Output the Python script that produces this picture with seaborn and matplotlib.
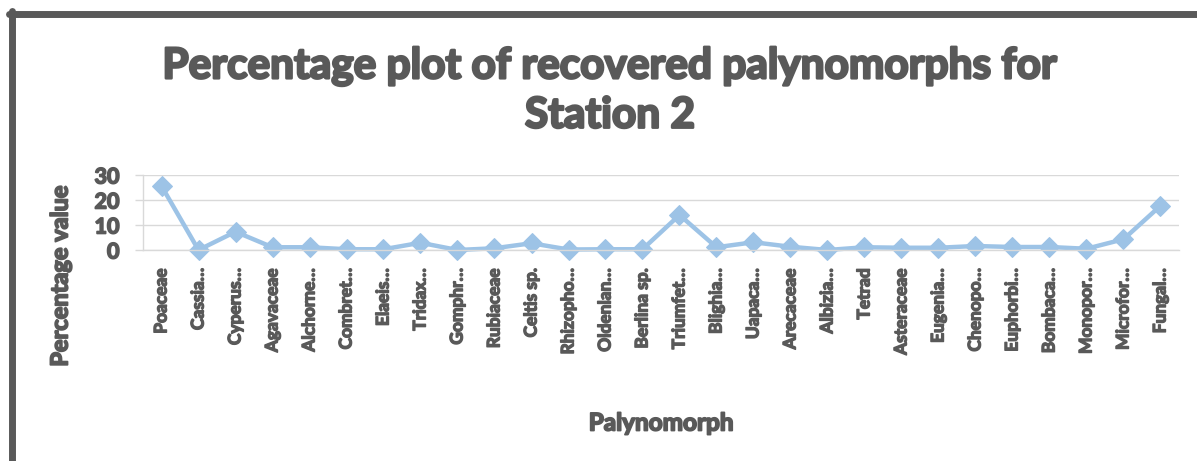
import numpy as np
import pandas as pd
import matplotlib
matplotlib.use('Agg')
import matplotlib.pyplot as plt
import matplotlib.patheffects as pe
from matplotlib.lines import Line2D
from matplotlib.ticker import FixedLocator
import seaborn as sns

# Datos
palinomorfos = ['Poaceae', 'Cassia…', 'Cyperus…', 'Agavaceae', 'Alchorne…', 'Combret…',
                'Elaeis…', 'Tridax…', 'Gomphr…', 'Rubiaceae', 'Celtis sp.', 'Rhizopho…',
                'Oldenlan…', 'Berlina sp.', 'Triumfet…', 'Blighia…', 'Uapaca…', 'Arecaceae',
                'Albizia…', 'Tetrad', 'Asteraceae', 'Eugenia…', 'Chenopo…', 'Euphorbi…',
                'Bombaca…', 'Monopor…', 'Microfor…', 'Fungal…']
porcentaje = [25.6, 0.0, 7.3, 1.1, 1.1, 0.3, 0.3, 2.9, 0.0, 0.7, 2.7, 0.2,
              0.3, 0.3, 14.0, 1.1, 3.1, 1.3, 0.0, 1.1, 0.9, 0.9, 1.6, 1.2,
              1.2, 0.5, 4.3, 17.7]
y_ticks = [0, 10, 20, 30]

df = pd.DataFrame({'Palynomorph': palinomorfos, 'Percentage value': porcentaje})
df['pos'] = np.arange(len(df))

sns.set_style('white')
plt.rcParams['font.family'] = ['Lato', 'DejaVu Sans']
gris = '#595959'
azul = '#9DC3E6'
rejilla = '#D9D9D9'

def grueso(w):
    # engrosa el texto para imitar la fuente pesada del original
    return [pe.withStroke(linewidth=w, foreground=gris)]

W, H = 1197, 461
fig = plt.figure(figsize=(W / 100, H / 100), dpi=100)
ax = fig.add_axes([143 / W, 1 - 250 / H, (1179 - 143) / W, 75 / H])

sns.lineplot(data=df, x='pos', y='Percentage value', ax=ax, sort=False,
             color=azul, linewidth=3.2, marker='D', markersize=10,
             markeredgecolor=azul, markerfacecolor=azul, clip_on=False)

ax.set_xlim(-0.5, len(df) - 0.5)
ax.set_ylim(0, 30)
ax.set_yticks(y_ticks)
ax.set_yticklabels([str(v) for v in y_ticks], fontsize=15.5, fontweight='bold', color=gris)
ax.set_xticks(df['pos'])
ax.set_xticklabels(palinomorfos, rotation=90, fontsize=12.5, fontweight='bold', color=gris)
for t in ax.get_xticklabels():
    t.set_path_effects(grueso(1.0))
for t in ax.get_yticklabels():
    t.set_path_effects(grueso(1.2))
ax.xaxis.set_minor_locator(FixedLocator(np.arange(-0.5, len(df), 1)))
ax.tick_params(axis='x', which='major', length=0, pad=13)
ax.tick_params(axis='x', which='minor', length=5, width=1, color=rejilla)
ax.tick_params(axis='y', which='major', length=6, width=1, color=rejilla, pad=11, left=True)
ax.grid(axis='y', color=rejilla, linewidth=1)
ax.set_xlabel('')
ax.set_ylabel('')
for s in ['top', 'right']:
    ax.spines[s].set_visible(False)
for s in ['left', 'bottom']:
    ax.spines[s].set_color(rejilla)
    ax.spines[s].set_linewidth(1)

# Textos
fig.text(610 / W, 1 - 91 / H, 'Percentage plot of recovered palynomorphs for\nStation 2',
         ha='center', va='center', fontsize=30.5, fontweight='bold', color=gris,
         linespacing=1.35, path_effects=grueso(1.8))
fig.text(60 / W, 1 - 276 / H, 'Percentage value', rotation=90, ha='center', va='center',
         fontsize=17, fontweight='bold', color=gris, path_effects=grueso(1.3))
fig.text(661 / W, 1 - 423 / H, 'Palynomorph', ha='center', va='center',
         fontsize=17.5, fontweight='bold', color=gris, path_effects=grueso(1.3))

# Marco del gráfico
fig.add_artist(Line2D([11.5 / W, 11.5 / W], [-0.1, 1 - 11.5 / H], color=gris, linewidth=5))
fig.add_artist(Line2D([9 / W, 1.1], [1 - 14 / H, 1 - 14 / H], color=gris, linewidth=5))

plt.savefig('out.png', dpi=100)
